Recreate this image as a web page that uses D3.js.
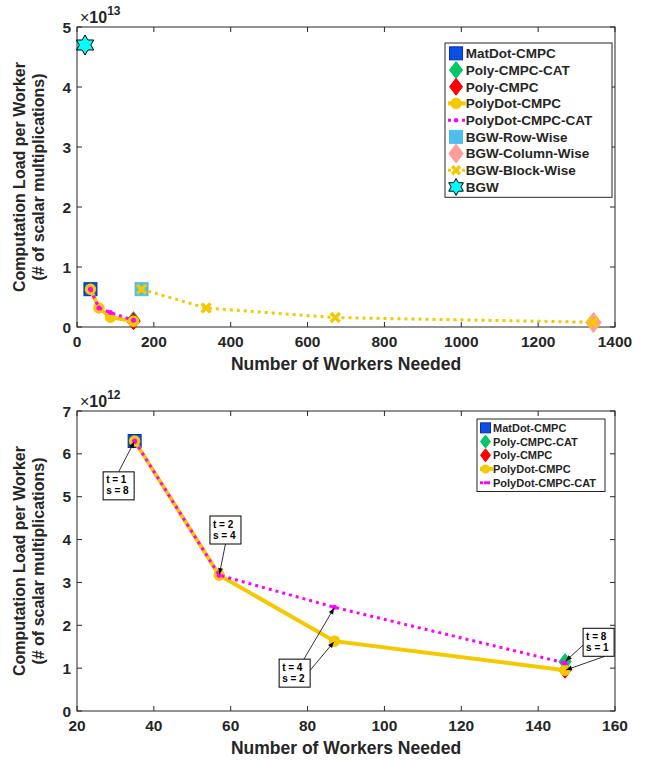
<!DOCTYPE html>
<html lang="en">
<head>
<meta charset="UTF-8">
<title>Computation load per worker</title>
<script src="https://d3js.org/d3.v7.min.js"></script>
<style>
  body { margin: 0; background: #fff; }
  svg text { font-family: Arial, "Liberation Sans", Helvetica, sans-serif; font-weight: bold; fill: #262626; }
</style>
</head>
<body>
<script>
// ---- data ----
var matdotN = [35];            var matdotLoad = [6.3e12];
var polyCatN = [147];          var polyCatLoad = [1.15e12];
var polyN = [147];             var polyLoad = [0.95e12];
var polydotN = [35, 57, 87, 147];     var polydotLoad = [6.3e12, 3.17e12, 1.63e12, 0.95e12];
var polydotCatN = [35, 57, 87, 147];  var polydotCatLoad = [6.3e12, 3.17e12, 2.42e12, 1.12e12];
var bgwRowN = [168];           var bgwRowLoad = [6.3e12];
var bgwColN = [1344];          var bgwColLoad = [0.75e12];
var bgwBlockN = [168, 336, 672, 1344]; var bgwBlockLoad = [6.3e12, 3.15e12, 1.57e12, 0.79e12];
var bgwN = [21];               var bgwLoad = [4.7e13];

var topXTicks = [0, 200, 400, 600, 800, 1000, 1200, 1400];
var topYTicks = [0, 1, 2, 3, 4, 5];
var botXTicks = [20, 40, 60, 80, 100, 120, 140, 160];
var botYTicks = [0, 1, 2, 3, 4, 5, 6, 7];

var topLegend = ["MatDot-CMPC", "Poly-CMPC-CAT", "Poly-CMPC", "PolyDot-CMPC", "PolyDot-CMPC-CAT",
                 "BGW-Row-Wise", "BGW-Column-Wise", "BGW-Block-Wise", "BGW"];
var botLegend = topLegend.slice(0, 5);

// annotations: box corner in data units (x, y in 1e12), arrow targets
var notes = [
  {lines: ["t = 1", "s = 8"], bx: 26.8, by: 5.58, targets: [[35, 6.3e12]]},
  {lines: ["t = 2", "s = 4"], bx: 54.6, by: 4.55, targets: [[57, 3.17e12]]},
  {lines: ["t = 4", "s = 2"], bx: 72.6, by: 1.21, targets: [[87, 2.42e12], [87, 1.63e12]]},
  {lines: ["t = 8", "s = 1"], bx: 151.7, by: 1.93, targets: [[147, 1.15e12], [147, 0.95e12]]}
];

var colors = {
  matdot: "#0a4ee6", polyCat: "#00c864", poly: "#ff0000", polydot: "#f5c800",
  magenta: "#ff00ff", bgwRow: "#4dbeee", bgwCol: "#ff9c9c", bgw: "#00ffff"
};

var W = 657, H = 762;
var svg = d3.select("body").append("svg").attr("width", W).attr("height", H);
var axisColor = "#262626";

function zip(a, b) { return a.map(function (v, i) { return [v, b[i]]; }); }

function hexagram(r) {
  var pts = [];
  for (var k = 0; k < 12; k++) {
    var ang = -Math.PI / 2 + k * Math.PI / 6;
    var rr = (k % 2 === 0) ? r : r * 0.577;
    pts.push([rr * Math.cos(ang), rr * Math.sin(ang)]);
  }
  return "M" + pts.join("L") + "Z";
}

function drawMarker(g, type, x, y, s) {
  if (type === "square") {
    g.append("rect").attr("x", x - s.size / 2).attr("y", y - s.size / 2)
      .attr("width", s.size).attr("height", s.size)
      .attr("fill", s.fill).attr("stroke", s.stroke || s.fill).attr("stroke-width", 1);
  } else if (type === "diamond") {
    g.append("path").attr("d", "M" + x + "," + (y - s.size / 2) + "L" + (x + s.size / 2.6) + "," + y +
        "L" + x + "," + (y + s.size / 2) + "L" + (x - s.size / 2.6) + "," + y + "Z")
      .attr("fill", s.fill).attr("stroke", s.stroke || s.fill).attr("stroke-width", 1);
  } else if (type === "circle") {
    g.append("circle").attr("cx", x).attr("cy", y).attr("r", s.size / 2)
      .attr("fill", s.fill).attr("stroke", s.stroke || s.fill).attr("stroke-width", 1.5);
  } else if (type === "dot") {
    g.append("circle").attr("cx", x).attr("cy", y).attr("r", s.size / 2).attr("fill", s.fill);
  } else if (type === "x") {
    var d = s.size / 2;
    g.append("path").attr("d", "M" + (x - d) + "," + (y - d) + "L" + (x + d) + "," + (y + d) +
        "M" + (x - d) + "," + (y + d) + "L" + (x + d) + "," + (y - d))
      .attr("stroke", s.fill).attr("stroke-width", 3.5).attr("fill", "none");
  } else if (type === "hexagram") {
    g.append("path").attr("d", hexagram(s.size / 2)).attr("transform", "translate(" + x + "," + y + ")")
      .attr("fill", s.fill).attr("stroke", "#000").attr("stroke-width", 1);
  }
}

function makeAxes(cfg) {
  var x = d3.scaleLinear().domain(cfg.xDomain).range([77, 615]);
  var y = d3.scaleLinear().domain(cfg.yDomain).range([cfg.bottom, cfg.top]);
  var g = svg.append("g");
  var tl = 5;
  // ticks (inside, both sides)
  cfg.xTicks.forEach(function (t) {
    g.append("line").attr("x1", x(t)).attr("x2", x(t)).attr("y1", cfg.bottom).attr("y2", cfg.bottom - tl)
      .attr("stroke", axisColor);
    g.append("line").attr("x1", x(t)).attr("x2", x(t)).attr("y1", cfg.top).attr("y2", cfg.top + tl)
      .attr("stroke", axisColor);
    g.append("text").attr("x", x(t)).attr("y", cfg.bottom + 20).attr("text-anchor", "middle")
      .style("font-size", "15.5px").text(t);
  });
  cfg.yTicks.forEach(function (t, i) {
    g.append("line").attr("x1", 77).attr("x2", 77 + tl).attr("y1", y(t)).attr("y2", y(t)).attr("stroke", axisColor);
    g.append("line").attr("x1", 615).attr("x2", 615 - tl).attr("y1", y(t)).attr("y2", y(t)).attr("stroke", axisColor);
    g.append("text").attr("x", 71).attr("y", y(t) + 5.5).attr("text-anchor", "end")
      .style("font-size", "15.5px").text(cfg.yLabels[i]);
  });
  g.append("rect").attr("x", 77).attr("y", cfg.top).attr("width", 615 - 77).attr("height", cfg.bottom - cfg.top)
    .attr("fill", "none").attr("stroke", axisColor).attr("stroke-width", 1);
  // exponent
  var ex = g.append("text").attr("x", 80).attr("y", cfg.top - 4).style("font-size", "16px");
  ex.append("tspan").style("font-weight", "normal").text("\u00d7");
  ex.append("tspan").text("10");
  ex.append("tspan").attr("dy", -8).style("font-size", "12px").text(cfg.exp);
  // axis labels
  g.append("text").attr("x", 346).attr("y", cfg.bottom + 43).attr("text-anchor", "middle")
    .style("font-size", "17.5px").text("Number of Workers Needed");
  var mid = (cfg.top + cfg.bottom) / 2;
  g.append("text").attr("transform", "translate(25," + mid + ") rotate(-90)").attr("text-anchor", "middle")
    .style("font-size", "16px").text("Computation Load per Worker");
  g.append("text").attr("transform", "translate(44," + mid + ") rotate(-90)").attr("text-anchor", "middle")
    .style("font-size", "16px").text("(# of scalar multiplications)");
  return {x: x, y: y};
}

function drawLegend(items, left, top, right, rowH, fontSize, mSize, markers) {
  var g = svg.append("g");
  var h = items.length * rowH + 4;
  g.append("rect").attr("x", left).attr("y", top).attr("width", right - left).attr("height", h)
    .attr("fill", "#fff").attr("stroke", "#262626").attr("stroke-width", 1);
  items.forEach(function (name, i) {
    var cy = top + 2 + rowH * (i + 0.5);
    var mx = left + mSize * 0.85;
    var m = markers[name];
    if (m.line) {
      g.append("line").attr("x1", left + 3).attr("x2", left + mSize * 1.6).attr("y1", cy).attr("y2", cy)
        .attr("stroke", m.line).attr("stroke-width", m.lw).attr("stroke-dasharray", m.dash || null);
    }
    if (m.type) drawMarker(g, m.type, mx, cy, {size: mSize * m.scale, fill: m.fill, stroke: m.stroke});
    g.append("text").attr("x", left + mSize * 1.6).attr("y", cy + fontSize * 0.36)
      .style("font-size", fontSize + "px").text(name);
  });
}

function drawSeries(S, size, lineW) {
  var gp = svg.append("g");
  zip(matdotN, matdotLoad).forEach(function (p) {
    drawMarker(gp, "square", S.x(p[0]), S.y(p[1]), {size: size.sq, fill: colors.matdot, stroke: "#0033aa"});
  });
  zip(polyCatN, polyCatLoad).forEach(function (p) {
    drawMarker(gp, "diamond", S.x(p[0]), S.y(p[1]), {size: size.dia, fill: colors.polyCat});
  });
  zip(polyN, polyLoad).forEach(function (p) {
    drawMarker(gp, "diamond", S.x(p[0]), S.y(p[1]), {size: size.dia, fill: colors.poly});
  });
  var line = d3.line().x(function (d) { return S.x(d[0]); }).y(function (d) { return S.y(d[1]); });
  gp.append("path").attr("d", line(zip(polydotN, polydotLoad))).attr("fill", "none")
    .attr("stroke", colors.polydot).attr("stroke-width", lineW);
  zip(polydotN, polydotLoad).forEach(function (p) {
    drawMarker(gp, "circle", S.x(p[0]), S.y(p[1]), {size: size.circ, fill: colors.polydot});
  });
  gp.append("path").attr("d", line(zip(polydotCatN, polydotCatLoad))).attr("fill", "none")
    .attr("stroke", colors.magenta).attr("stroke-width", 3).attr("stroke-dasharray", "3,4");
  zip(polydotCatN, polydotCatLoad).forEach(function (p) {
    drawMarker(gp, "dot", S.x(p[0]), S.y(p[1]), {size: 5, fill: colors.magenta});
  });
  return gp;
}

var legendMarkers = {
  "MatDot-CMPC": {type: "square", fill: colors.matdot, stroke: "#0033aa", scale: 1},
  "Poly-CMPC-CAT": {type: "diamond", fill: colors.polyCat, scale: 1.3},
  "Poly-CMPC": {type: "diamond", fill: colors.poly, scale: 1.3},
  "PolyDot-CMPC": {type: "circle", fill: colors.polydot, scale: 0.75, line: colors.polydot, lw: 4},
  "PolyDot-CMPC-CAT": {type: "dot", fill: colors.magenta, scale: 0.35, line: colors.magenta, lw: 3, dash: "3,4"},
  "BGW-Row-Wise": {type: "square", fill: colors.bgwRow, scale: 1},
  "BGW-Column-Wise": {type: "diamond", fill: colors.bgwCol, scale: 1.45},
  "BGW-Block-Wise": {type: "x", fill: colors.polydot, scale: 0.6, line: colors.polydot, lw: 3, dash: "3,4"},
  "BGW": {type: "hexagram", fill: colors.bgw, scale: 1.3}
};

// ---------- top chart ----------
var A = makeAxes({xDomain: [0, 1400], yDomain: [0, 5e13], top: 27, bottom: 327,
                  xTicks: topXTicks, yTicks: topYTicks.map(function (v) { return v * 1e13; }),
                  yLabels: topYTicks, exp: "13"});

var gTop = drawSeries(A, {sq: 13, dia: 17, circ: 10}, 4);
var lineT = d3.line().x(function (d) { return A.x(d[0]); }).y(function (d) { return A.y(d[1]); });
zip(bgwRowN, bgwRowLoad).forEach(function (p) {
  drawMarker(gTop, "square", A.x(p[0]), A.y(p[1]), {size: 13, fill: colors.bgwRow});
});
zip(bgwColN, bgwColLoad).forEach(function (p) {
  drawMarker(gTop, "diamond", A.x(p[0]), A.y(p[1]), {size: 20, fill: colors.bgwCol});
});
gTop.append("path").attr("d", lineT(zip(bgwBlockN, bgwBlockLoad))).attr("fill", "none")
  .attr("stroke", colors.polydot).attr("stroke-width", 3).attr("stroke-dasharray", "3,4");
zip(bgwBlockN, bgwBlockLoad).forEach(function (p) {
  drawMarker(gTop, "x", A.x(p[0]), A.y(p[1]), {size: 9, fill: colors.polydot});
});
zip(bgwN, bgwLoad).forEach(function (p) {
  drawMarker(gTop, "hexagram", A.x(p[0]), A.y(p[1]), {size: 20, fill: colors.bgw});
});

drawLegend(topLegend, 445, 43, 612, 16.7, 13.5, 13, legendMarkers);

// ---------- bottom chart ----------
var B = makeAxes({xDomain: [20, 160], yDomain: [0, 7e12], top: 411, bottom: 711,
                  xTicks: botXTicks, yTicks: botYTicks.map(function (v) { return v * 1e12; }),
                  yLabels: botYTicks, exp: "12"});
drawSeries(B, {sq: 13, dia: 16, circ: 10}, 4);

// annotations
var gn = svg.append("g");
notes.forEach(function (n) {
  var bx = B.x(n.bx), by = B.y(n.by * 1e12);
  var bw = 31, bh = 28;
  n.targets.forEach(function (t, i) {
    var sx, sy;
    if (n.targets.length === 1) {
      sx = bx + bw / 2;
      sy = B.y(t[1]) < by ? by : by + bh;
    } else if (n.lines[0] === "t = 8") {
      sx = i === 0 ? bx : bx + bw * 0.7; sy = i === 0 ? by + bh * 0.6 : by + bh;
    } else {
      sx = i === 0 ? bx + bw * 0.8 : bx + bw; sy = i === 0 ? by : by + bh * 0.4;
    }
    var tx = B.x(t[0]), ty = B.y(t[1]);
    var ang = Math.atan2(ty - sy, tx - sx);
    var ex = tx - 1 * Math.cos(ang), ey = ty - 1 * Math.sin(ang);
    gn.append("line").attr("x1", sx).attr("y1", sy).attr("x2", ex).attr("y2", ey)
      .attr("stroke", "#000").attr("stroke-width", 0.8);
    var ah = 6, aw = 2.5;
    var p1 = [ex - ah * Math.cos(ang) + aw * Math.sin(ang), ey - ah * Math.sin(ang) - aw * Math.cos(ang)];
    var p2 = [ex - ah * Math.cos(ang) - aw * Math.sin(ang), ey - ah * Math.sin(ang) + aw * Math.cos(ang)];
    gn.append("path").attr("d", "M" + ex + "," + ey + "L" + p1 + "L" + p2 + "Z").attr("fill", "#000");
  });
  gn.append("rect").attr("x", bx).attr("y", by).attr("width", bw).attr("height", bh)
    .attr("fill", "#fff").attr("stroke", "#000").attr("stroke-width", 1);
  n.lines.forEach(function (l, i) {
    gn.append("text").attr("x", bx + 3).attr("y", by + 11.5 + i * 11).style("font-size", "10px")
      .style("fill", "#000").text(l);
  });
});

drawLegend(botLegend, 477, 419, 605, 13.7, 11, 10, legendMarkers);
</script>
</body>
</html>
